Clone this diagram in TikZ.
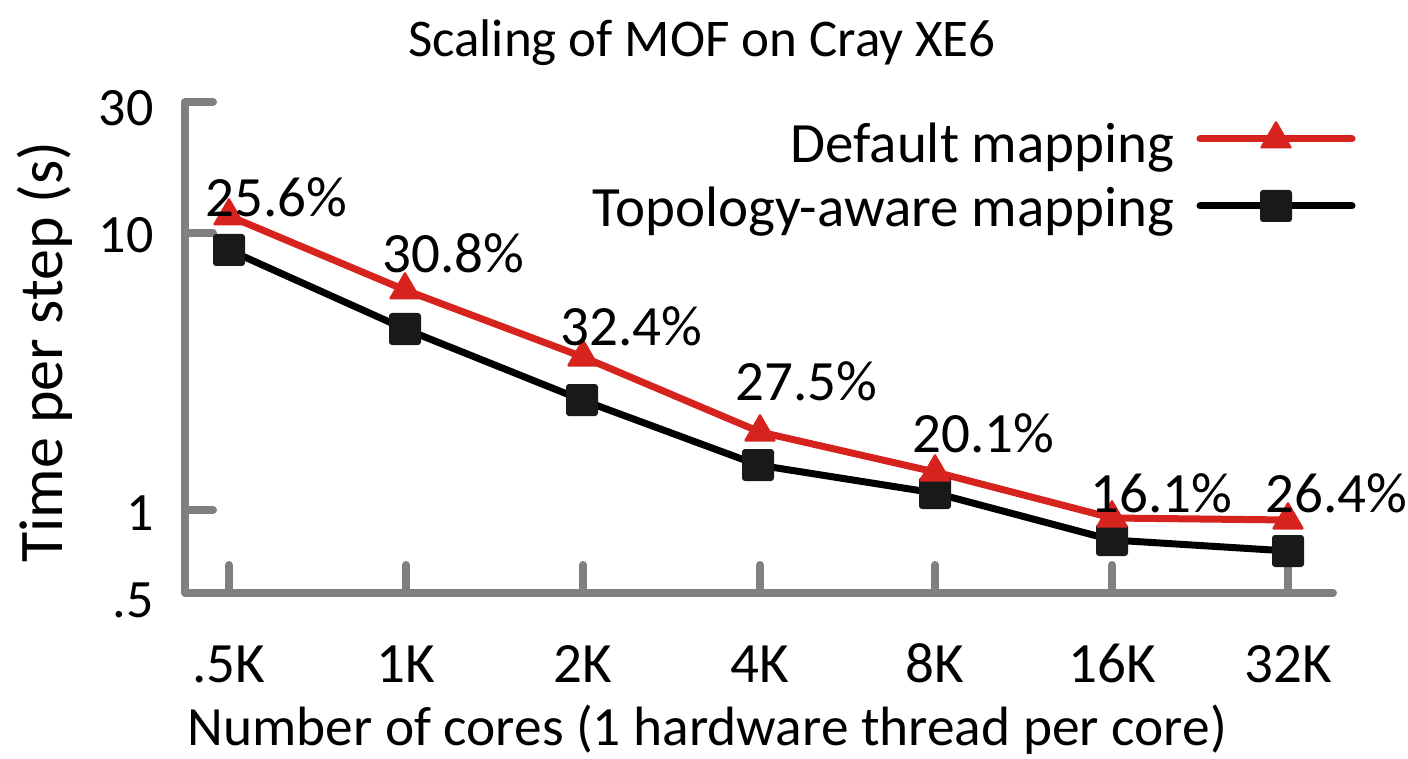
\documentclass[tikz,border=0pt]{standalone}
\usepackage{fontspec}
\setmainfont{Carlito}
\usetikzlibrary{shapes.geometric}
\definecolor{lineRed}{RGB}{214,35,30}
\definecolor{axisGray}{RGB}{128,128,128}
\tikzset{
  axisline/.style={draw=axisGray,line width=4pt,line cap=round,line join=round},
  redline/.style={draw=lineRed,line width=3.5pt,line cap=round,line join=round},
  blackline/.style={draw=black,line width=3.5pt,line cap=round,line join=round},
  tri/.style={regular polygon,regular polygon sides=3,fill=lineRed,minimum size=19pt,inner sep=0pt,rounded corners=0.8pt},
  sq/.style={rectangle,fill=black!90,minimum size=16pt,inner sep=0pt,rounded corners=1.5pt},
  bigtext/.style={font=\fontsize{28.5}{30}\selectfont,inner sep=0pt},
  ytick/.style={font=\fontsize{27}{29}\selectfont,inner sep=0pt,anchor=east},
  pct/.style={font=\fontsize{28.5}{30}\selectfont,inner sep=0pt,anchor=base west},
}
\begin{document}
\begin{tikzpicture}[x=0.5pt,y=-0.5pt]
\useasboundingbox (0,0) rectangle (1408,759);
% title
\node[font=\fontsize{26.5}{28}\selectfont,inner sep=0pt,anchor=base] (title) at (702,57) {Scaling of MOF on Cray XE6};
% axes
\coordinate (ytop) at (213,102);
\coordinate (corner) at (185,593);
\coordinate (xend) at (1333,593);
\draw[axisline] (ytop) -- (185,102) -- (corner) -- (xend);
\foreach \yy/\nm in {233/t10,510/t1}{
  \draw[axisline] (185,\yy) -- (213,\yy);
}
\node[ytick] (yl30) at (154,108) {30};
\node[ytick] (yl10) at (154,235) {10};
\node[ytick] (yl1) at (154,513) {1};
\node[ytick] (yl05) at (154,600) {.5};
% x ticks and labels
\foreach \xx/\lab/\nm in {229/.5K/a,406/1K/b,583/2K/c,760/4K/d,935/8K/e,1112/16K/f,1288/32K/g}{
  \draw[axisline] (\xx,593) -- (\xx,565);
  \node[bigtext,anchor=base] (xl\nm) at (\xx,682) {\lab};
}
% axis titles
\node[font=\fontsize{27.7}{30}\selectfont,inner sep=0pt,anchor=base] (xtitle) at (707,745) {Number of cores (1 hardware thread per core)};
\node[font=\fontsize{31}{33}\selectfont,inner sep=0pt,anchor=base,rotate=90] (ytitle) at (62,352) {Time per step (s)};
% data coordinates
\coordinate (pr1) at (229,216);
\coordinate (pr2) at (405,290);
\coordinate (pr3) at (583,357);
\coordinate (pr4) at (760,432);
\coordinate (pr5) at (935,472);
\coordinate (pr6) at (1112,518);
\coordinate (pr7) at (1288,520);
\coordinate (pb1) at (229,250);
\coordinate (pb2) at (405,329);
\coordinate (pb3) at (582,400);
\coordinate (pb4) at (758,465);
\coordinate (pb5) at (935,493);
\coordinate (pb6) at (1112,540);
\coordinate (pb7) at (1288,551);
\draw[blackline] (pb1) -- (pb2) -- (pb3) -- (pb4) -- (pb5) -- (pb6) -- (pb7);
\draw[redline] (pr1) -- (pr2) -- (pr3) -- (pr4) -- (pr5) -- (pr6) -- (pr7);
\foreach \i in {1,...,7}{
  \node[sq] (b\i) at (pb\i) {};
  \node[tri] (r\i) at (pr\i) {};
}
% percentage labels
\node[pct] (p1) at (205,217) {25.6\%};
\node[pct] (p2) at (382,273) {30.8\%};
\node[pct] (p3) at (560,345) {32.4\%};
\node[pct] (p4) at (735,400) {27.5\%};
\node[pct] (p5) at (912,452) {20.1\%};
\node[pct] (p6) at (1090,512) {16.1\%};
\node[pct] (p7) at (1265,512) {26.4\%};
% legend
\node[bigtext,anchor=base east] (leg1) at (1175,163) {Default mapping};
\node[bigtext,anchor=base east] (leg2) at (1175,227) {Topology-aware mapping};
\coordinate (l1a) at (1200,139);
\coordinate (l1b) at (1352,139);
\coordinate (l2a) at (1200,206);
\coordinate (l2b) at (1352,206);
\draw[redline] (l1a) -- (l1b);
\draw[blackline] (l2a) -- (l2b);
\node[tri] (legtri) at (1276,139) {};
\node[sq] (legsq) at (1276,206) {};
\end{tikzpicture}
\end{document}
